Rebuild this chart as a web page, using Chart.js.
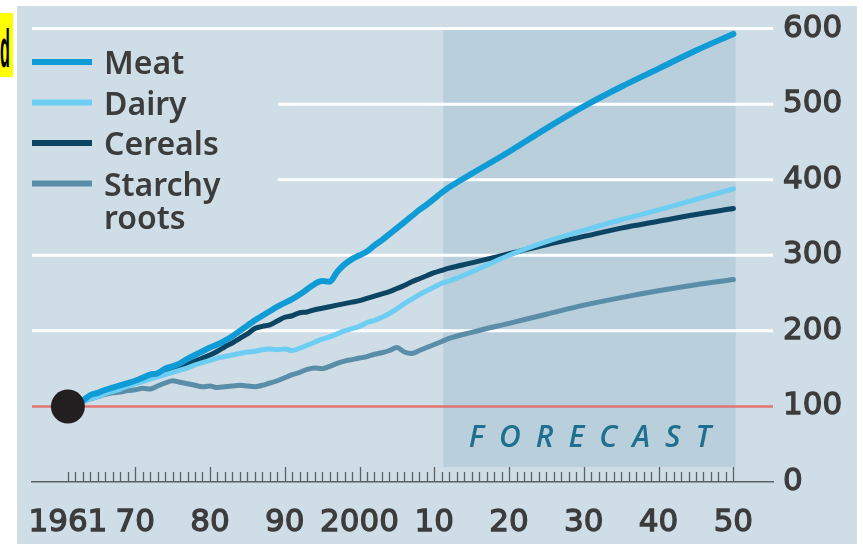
<!DOCTYPE html>
<html lang="en">
<head>
    <meta charset="UTF-8">
    <title>Meat, Dairy, Cereals, Starchy roots</title>
    <script src="https://cdn.jsdelivr.net/npm/chart.js"></script>
    <style>
        body {
            margin: 0;
            background: #ffffff;
        }
        .wrap {
            position: relative;
            width: 863px;
            height: 544px;
        }
        .tag {
            position: absolute;
            left: 0;
            top: 13px;
            width: 13px;
            height: 64px;
            background: #ffff00;
            overflow: hidden;
        }
        .tag span {
            position: absolute;
            right: 3px;
            top: 4px;
            font: bold 54px "Liberation Sans", Arial, sans-serif;
            color: #000;
            transform: scaleX(0.3);
            transform-origin: right center;
        }
    </style>
</head>
<body>
<div class="wrap">
    <canvas id="chart" width="863" height="544"></canvas>
    <div class="tag"><span>d</span></div>
</div>
<script>
    // years: yearly history, then five-yearly forecast points
    const years = [
        1961, 1962, 1963, 1964, 1965, 1966, 1967, 1968, 1969, 1970,
        1971, 1972, 1973, 1974, 1975, 1976, 1977, 1978, 1979, 1980,
        1981, 1982, 1983, 1984, 1985, 1986, 1987, 1988, 1989, 1990,
        1991, 1992, 1993, 1994, 1995, 1996, 1997, 1998, 1999, 2000,
        2001, 2002, 2003, 2004, 2005, 2006, 2007, 2008, 2009, 2010,
        2011, 2012,
        2015, 2020, 2025, 2030, 2035, 2040, 2045, 2050
    ];
    const meat = [
        100, 104, 108, 115, 118, 122, 125, 128, 131, 134,
        138, 142, 144, 150, 153, 157, 163, 168, 173, 178,
        182, 187, 193, 200, 207, 214, 220, 226, 232, 237,
        242, 248, 255, 262, 266, 265, 278, 288, 295, 300,
        305, 313, 320, 328, 336, 344, 352, 360, 367, 375,
        383, 390,
        408, 437, 468, 497, 523, 547, 571, 593
    ];
    const dairy = [
        100, 103, 106, 110, 113, 117, 120, 123, 127, 130,
        133, 136, 139, 142, 145, 148, 151, 155, 158, 161,
        164, 166, 168, 170, 172, 173, 175, 176, 175, 176,
        174, 177, 181, 185, 189, 192, 196, 200, 203, 206,
        211, 214, 218, 223, 229, 236, 242, 248, 253, 258,
        263, 266,
        278, 300, 318, 333, 347, 360, 374, 388
    ];
    const cereals = [
        100, 104, 107, 111, 114, 118, 121, 125, 128, 131,
        135, 137, 141, 144, 148, 152, 155, 160, 164, 168,
        173, 179, 184, 190, 196, 203, 206, 208, 213, 218,
        220, 224, 225, 228, 230, 232, 234, 236, 238, 240,
        243, 246, 249, 252, 256, 260, 265, 269, 273, 277,
        280, 283,
        290, 302, 314, 325, 336, 345, 354, 362
    ];
    const starchy = [
        100, 103, 107, 110, 113, 116, 118, 119, 121, 122,
        124, 123, 127, 131, 134, 132, 130, 128, 126, 127,
        125, 126, 127, 128, 127, 126, 128, 131, 134, 138,
        142, 145, 149, 151, 150, 153, 157, 160, 162, 164,
        166, 169, 171, 174, 178, 172, 170, 174, 178, 182,
        186, 190,
        198, 210, 222, 234, 244, 253, 261, 268
    ];

    const seriesNames = ['Meat', 'Dairy', 'Cereals', ['Starchy', 'roots']];
    const seriesColors = ['#0e9bd6', '#6dcdf2', '#0b4563', '#5a8ea8'];
    const seriesWidths = [6, 5, 5, 5];
    const seriesData = [meat, dairy, cereals, starchy];

    const xTicks = [1961, 1970, 1980, 1990, 2000, 2010, 2020, 2030, 2040, 2050];
    const xTickLabels = ['1961', '70', '80', '90', '2000', '10', '20', '30', '40', '50'];
    const yTicks = [0, 100, 200, 300, 400, 500, 600];
    const forecastFrom = 2011.2;
    const forecastTo = 2050.3;
    const startPoint = [{ x: 1961, y: 100 }];

    const FONT = "'Noto Sans', sans-serif";
    const TICK_FONT = "'DejaVu Sans', sans-serif";
    const TEXT = '#3c3c3c';

    const backdrop = {
        id: 'backdrop',
        beforeDraw(chart) {
            const c = chart.ctx;
            c.save();
            c.fillStyle = '#ffffff';
            c.fillRect(0, 0, chart.width, chart.height);
            c.fillStyle = '#cedde6';
            c.fillRect(17, 6, 840, chart.height - 6);
            c.restore();
        },
        beforeDatasetsDraw(chart) {
            const c = chart.ctx;
            const x = chart.scales.x, y = chart.scales.y;
            const area = chart.chartArea;
            c.save();
            // forecast shading
            const fx0 = x.getPixelForValue(forecastFrom), fx1 = x.getPixelForValue(forecastTo);
            const fy0 = y.getPixelForValue(600), fy1 = y.getPixelForValue(20);
            c.fillStyle = '#b9cfdc';
            c.fillRect(fx0, fy0, fx1 - fx0, fy1 - fy0);
            // white gridlines, shorter where the legend sits
            c.strokeStyle = '#ffffff';
            c.lineWidth = 3;
            yTicks.forEach(v => {
                if (v < 200) return;
                const py = y.getPixelForValue(v);
                const start = (v === 400 || v === 500) ? 278 : area.left;
                c.beginPath();
                c.moveTo(start, py);
                c.lineTo(area.right, py);
                c.stroke();
            });
            // red baseline at 100
            const ry = y.getPixelForValue(100);
            c.strokeStyle = '#df7471';
            c.lineWidth = 2.5;
            c.beginPath();
            c.moveTo(area.left, ry);
            c.lineTo(area.right, ry);
            c.stroke();
            // yearly ticks above the axis
            c.strokeStyle = '#5a6166';
            c.lineWidth = 1.3;
            const by = y.getPixelForValue(0);
            for (let yr = 1961; yr <= 2050; yr++) {
                const px = Math.round(x.getPixelForValue(yr)) + 0.5;
                const h = yr % 10 === 0 ? 15 : 10;
                c.beginPath();
                c.moveTo(px, by);
                c.lineTo(px, by - h);
                c.stroke();
            }
            // FORECAST label
            c.fillStyle = '#1f6f8e';
            c.font = "italic 600 30px 'Open Sans', sans-serif";
            c.letterSpacing = '15px';
            c.textAlign = 'center';
            c.textBaseline = 'alphabetic';
            c.fillText('FORECAST', (fx0 + fx1) / 2 + 8, by - 35);
            c.restore();
        },
        afterDraw(chart) {
            const c = chart.ctx;
            c.save();
            c.font = '600 32px ' + FONT;
            c.fillStyle = TEXT;
            c.textBaseline = 'alphabetic';
            let sy = 62;
            seriesNames.forEach((name, i) => {
                c.strokeStyle = seriesColors[i];
                c.lineWidth = 6;
                c.beginPath();
                c.moveTo(32, sy);
                c.lineTo(92, sy);
                c.stroke();
                const lines = Array.isArray(name) ? name : [name];
                lines.forEach((t, j) => c.fillText(t, 104, sy + 12 + j * 33));
                sy += 40.5;
            });
            c.restore();
        }
    };

    const datasets = [{
        label: 'start',
        data: startPoint,
        showLine: false,
        pointRadius: 17,
        pointBackgroundColor: '#231f20',
        pointBorderWidth: 0,
        order: -1
    }];
    seriesData.forEach((arr, i) => {
        datasets.push({
            label: Array.isArray(seriesNames[i]) ? seriesNames[i].join(' ') : seriesNames[i],
            data: years.map((yr, k) => ({ x: yr, y: arr[k] })),
            borderColor: seriesColors[i],
            borderWidth: seriesWidths[i],
            pointRadius: 0,
            tension: 0,
            cubicInterpolationMode: 'monotone',
            borderCapStyle: 'round',
            borderJoinStyle: 'round',
            order: i
        });
    });

    const tickText = {
        color: TEXT,
        textStrokeColor: TEXT,
        textStrokeWidth: 1.3,
        font: { family: TICK_FONT, size: 31, weight: 'normal' }
    };

    new Chart(document.getElementById('chart').getContext('2d'), {
        type: 'line',
        data: { datasets: datasets },
        options: {
            responsive: false,
            animation: false,
            layout: { padding: { left: 32, top: 28, right: 0, bottom: 0 } },
            plugins: { legend: { display: false }, tooltip: { enabled: false } },
            scales: {
                x: {
                    type: 'linear',
                    min: 1956.2,
                    max: 2055.3,
                    grid: { display: false, drawTicks: false },
                    border: { display: true, color: '#5a6166', width: 1.5 },
                    afterBuildTicks: s => { s.ticks = xTicks.map(v => ({ value: v })); },
                    afterFit: s => { s.height = 62; },
                    ticks: Object.assign({
                        autoSkip: false,
                        maxRotation: 0,
                        padding: 22,
                        callback: (v) => xTickLabels[xTicks.indexOf(v)]
                    }, tickText)
                },
                y: {
                    position: 'right',
                    min: 0,
                    max: 600,
                    grid: { display: false, drawTicks: false },
                    border: { display: false },
                    afterBuildTicks: s => { s.ticks = yTicks.map(v => ({ value: v })); },
                    afterFit: s => { s.width = 90; },
                    ticks: Object.assign({ padding: 10 }, tickText)
                }
            }
        },
        plugins: [backdrop]
    });
</script>
</body>
</html>
